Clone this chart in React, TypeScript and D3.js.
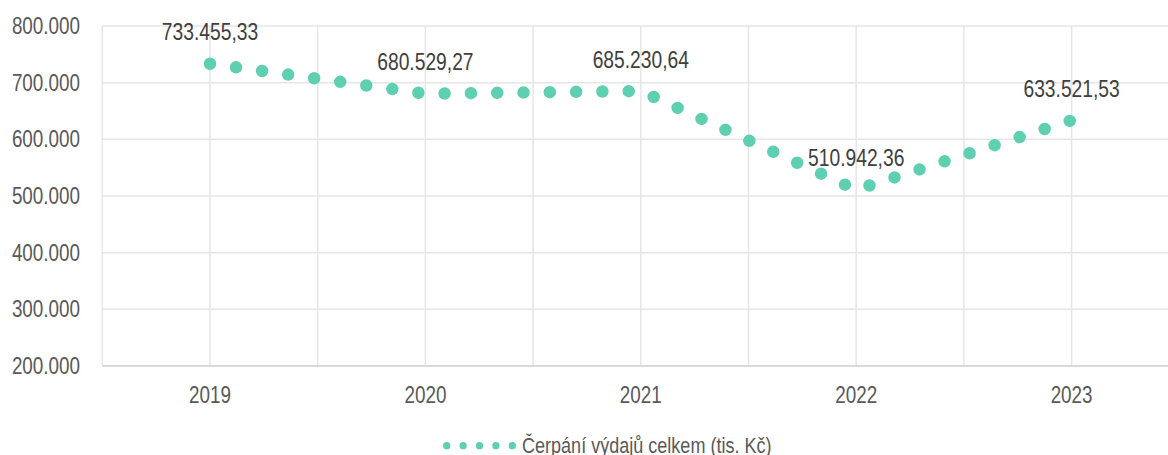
import React, { useEffect, useRef } from "react";
import * as d3 from "d3";

const years = [2019, 2020, 2021, 2022, 2023];
const values = [733455.33, 680529.27, 685230.64, 510942.36, 633521.53];
const yTicks = [200000, 300000, 400000, 500000, 600000, 700000, 800000];
const seriesName = "Čerpání výdajů celkem (tis. Kč)";

// no narrow font installed, so Liberation Sans gets squeezed horizontally
const FONT = "'Liberation Sans', Arial, sans-serif";
const NARROW = 0.82;
const GREEN = "#5ecfb0";

const cz = d3.formatLocale({ decimal: ",", thousands: ".", grouping: [3], currency: ["", " Kč"] });
const fmtTick = cz.format(",.0f");
const fmtLabel = cz.format(",.2f");

const place = (px: number, py: number) => `translate(${px},${py}) scale(${NARROW},1)`;

export default function App() {
  const ref = useRef<SVGSVGElement>(null);

  useEffect(() => {
    document.body.style.margin = "0";
    const width = 1168;
    const height = 455;
    const left = 102.3;
    const top = 26;
    const bottom = 366;

    const svg = d3.select(ref.current).attr("width", width).attr("height", height);
    svg.selectAll("*").remove();

    const x = d3.scaleLinear().domain([2018.5, 2023.5]).range([left, left + 5 * 215.4]);
    const y = d3.scaleLinear().domain([200000, 800000]).range([bottom, top]);

    // grid
    const halfYears = d3.range(2018.5, 2023.6, 0.5);
    svg.append("g").selectAll("line").data(halfYears).join("line")
      .attr("x1", d => x(d)).attr("x2", d => x(d))
      .attr("y1", top).attr("y2", bottom)
      .attr("stroke", "#e6e6e6").attr("stroke-width", 1.5);

    svg.append("g").selectAll("line").data(yTicks.slice(1)).join("line")
      .attr("x1", left).attr("x2", width)
      .attr("y1", d => y(d)).attr("y2", d => y(d))
      .attr("stroke", "#e6e6e6").attr("stroke-width", 1.5);

    // x axis baseline
    svg.append("line")
      .attr("x1", left).attr("x2", width)
      .attr("y1", bottom).attr("y2", bottom)
      .attr("stroke", "#d9d9d9").attr("stroke-width", 2);

    // y tick labels
    svg.append("g").selectAll("text").data(yTicks).join("text")
      .attr("transform", d => place(80, y(d) + 8))
      .attr("text-anchor", "end")
      .attr("font-family", FONT).attr("font-size", 23)
      .attr("fill", "#595959")
      .text(d => fmtTick(d));

    // x tick labels
    svg.append("g").selectAll("text").data(years).join("text")
      .attr("transform", d => place(x(d), 403))
      .attr("text-anchor", "middle")
      .attr("font-family", FONT).attr("font-size", 23)
      .attr("fill", "#595959")
      .text(d => String(d));

    // dotted line
    const line = d3.line<number>()
      .x((d, i) => x(years[i]))
      .y(d => y(d));

    svg.append("path")
      .attr("d", line(values))
      .attr("fill", "none")
      .attr("stroke", GREEN)
      .attr("stroke-width", 12.5)
      .attr("stroke-linecap", "round")
      .attr("stroke-dasharray", "0 26.3");

    // data labels
    svg.append("g").selectAll("text").data(values).join("text")
      .attr("transform", (d, i) => place(x(years[i]), y(d) - 23.5))
      .attr("text-anchor", "middle")
      .attr("font-family", FONT).attr("font-size", 23.5)
      .attr("fill", "#404040")
      .text(d => fmtLabel(d));

    // legend
    svg.append("line")
      .attr("x1", 446.7).attr("x2", 512.5)
      .attr("y1", 445.7).attr("y2", 445.7)
      .attr("stroke", GREEN)
      .attr("stroke-width", 7.3)
      .attr("stroke-linecap", "round")
      .attr("stroke-dasharray", "0 16.4");

    svg.append("text")
      .attr("transform", place(522, 453))
      .attr("font-family", FONT).attr("font-size", 22)
      .attr("fill", "#595959")
      .text(seriesName);
  }, []);

  return <svg ref={ref} style={{ display: "block" }}></svg>;
}
